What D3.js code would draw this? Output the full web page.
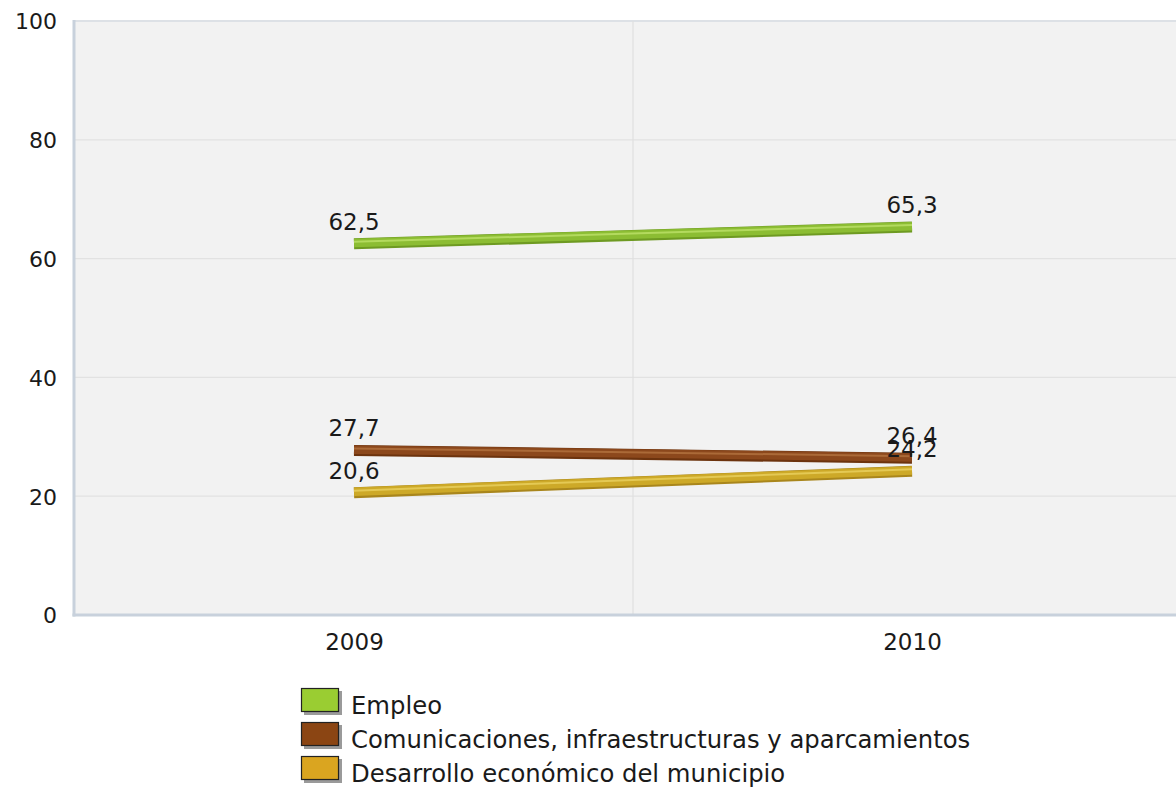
<!DOCTYPE html>
<html><head><meta charset="utf-8">
<script src="https://cdn.jsdelivr.net/npm/d3@7/dist/d3.min.js"></script>
<style>
html,body{margin:0;padding:0;background:#fff;}
svg{display:block;font-family:"DejaVu Sans",Verdana,sans-serif;}
</style></head>
<body>
<svg id="chart" width="1176" height="789"></svg>
<script>
const years = ["2009", "2010"];
const seriesNames = ["Empleo", "Comunicaciones, infraestructuras y aparcamientos", "Desarrollo económico del municipio"];
const empleo = [62.5, 65.3];
const comunicaciones = [27.7, 26.4];
const desarrollo = [20.6, 24.2];
const yTicks = [0, 20, 40, 60, 80, 100];
const valueLabels = [["62,5","65,3"],["27,7","26,4"],["20,6","24,2"]];

const series = [empleo, comunicaciones, desarrollo];
const colors = [
  {base:"#8cbd33", light:"#b3da5e", dark:"#6e9a22", legend:"#9acd32"},
  {base:"#8c481c", light:"#ab6a38", dark:"#6c330e", legend:"#8b4513"},
  {base:"#cda928", light:"#e4c954", dark:"#a9861c", legend:"#daa520"}
];

const svg = d3.select("#chart");
const L = 75, R = 1191, T = 21, B = 615;
const x = d3.scalePoint().domain(years).range([L, R]).padding(0.5);
const y = d3.scaleLinear().domain([0, 100]).range([B, T]);

svg.append("rect").attr("x", L).attr("y", T).attr("width", R - L).attr("height", B - T).attr("fill", "#f2f2f2");

svg.append("g").selectAll("line").data(yTicks.filter(d => d > 0)).join("line")
  .attr("x1", L).attr("x2", R).attr("y1", d => y(d)).attr("y2", d => y(d))
  .attr("stroke", d => d === 100 ? "#dde1e6" : "#e2e2e2").attr("stroke-width", d => d === 100 ? 2 : 1.2);

const mid = (x(years[0]) + x(years[1])) / 2;
svg.append("line").attr("x1", mid).attr("x2", mid).attr("y1", T).attr("y2", B)
  .attr("stroke", "#e0e0e0").attr("stroke-width", 1.2);

svg.append("line").attr("x1", L - 1).attr("x2", L - 1).attr("y1", T - 1).attr("y2", B + 1.5)
  .attr("stroke", "#c8d1dc").attr("stroke-width", 3);
svg.append("line").attr("x1", L - 2.5).attr("x2", R).attr("y1", B).attr("y2", B)
  .attr("stroke", "#c8d1dc").attr("stroke-width", 3);

const yAxis = d3.axisLeft(y).tickValues(yTicks).tickSize(0).tickPadding(0);
const ya = svg.append("g").attr("transform", `translate(${57},0)`).call(yAxis)
  .attr("font-family", null).attr("font-size", null);
ya.select(".domain").remove();
ya.selectAll("text").attr("font-size", 22).attr("fill", "#1a1a1a").attr("dy", "0.36em");

const xAxis = d3.axisBottom(x).tickSize(0).tickPadding(0);
const xa = svg.append("g").attr("transform", `translate(0,${633})`).call(xAxis)
  .attr("font-family", null).attr("font-size", null);
xa.select(".domain").remove();
xa.selectAll("text").attr("font-size", 23).attr("fill", "#1a1a1a").attr("dy", "0.76em");

const line = d3.line().x((d, i) => x(years[i])).y(d => y(d));
series.forEach((s, k) => {
  const g = svg.append("g");
  const c = colors[k];
  g.append("path").attr("d", line(s)).attr("fill", "none").attr("stroke", c.dark).attr("stroke-width", 11);
  g.append("path").attr("d", line(s)).attr("fill", "none").attr("stroke", c.base).attr("stroke-width", 8.5)
    .attr("transform", "translate(0,-0.8)");
  g.append("path").attr("d", line(s)).attr("fill", "none").attr("stroke", c.light).attr("stroke-width", 2)
    .attr("transform", "translate(0,-2)");
});

series.forEach((s, k) => {
  svg.append("g").selectAll("text").data(s).join("text")
    .attr("x", (d, i) => x(years[i]))
    .attr("y", d => y(d) - 14)
    .attr("text-anchor", "middle").attr("font-size", 23).attr("fill", "#1a1a1a")
    .text((d, i) => valueLabels[k][i]);
});

const lg = svg.append("g").attr("transform", "translate(301,688)");
seriesNames.forEach((n, k) => {
  const r = lg.append("g").attr("transform", `translate(0,${k * 34})`);
  r.append("rect").attr("x", 3).attr("y", 3).attr("width", 38).attr("height", 24).attr("fill", "#9a9a9a");
  r.append("rect").attr("x", 0.5).attr("y", 0.5).attr("width", 37).attr("height", 23)
    .attr("fill", colors[k].legend).attr("stroke", "#222").attr("stroke-width", 1.2);
  r.append("text").attr("x", 50).attr("y", 26).attr("font-size", 24.3).attr("fill", "#1a1a1a").text(n);
});
</script>
</body></html>
